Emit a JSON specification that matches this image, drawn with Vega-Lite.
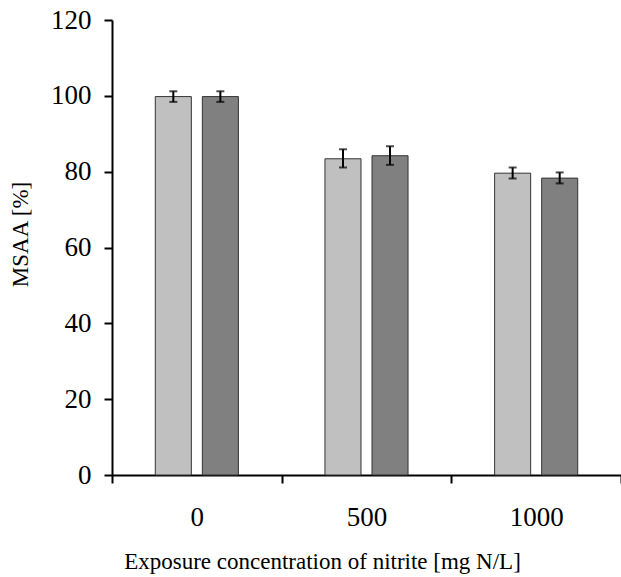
{
  "$schema": "https://vega.github.io/schema/vega-lite/v6.json",
  "autosize": {"type": "none"},
  "padding": {"left": 112, "top": 20, "right": 0, "bottom": 102},
  "width": 509,
  "height": 455,
  "background": "white",
  "config": {
    "view": {"stroke": null},
    "font": "Liberation Serif",
    "axis": {
      "labelFont": "Liberation Serif",
      "titleFont": "Liberation Serif",
      "labelColor": "black",
      "titleColor": "black",
      "titleFontWeight": "normal",
      "domainColor": "black",
      "tickColor": "black",
      "domainWidth": 2,
      "tickWidth": 2,
      "grid": false
    }
  },
  "data": {
    "values": [
      {"conc": "0", "series": "A", "mean": 99.8, "lo": 98.4, "hi": 101.2},
      {"conc": "0", "series": "B", "mean": 99.8, "lo": 98.4, "hi": 101.2},
      {"conc": "500", "series": "A", "mean": 83.4, "lo": 81.1, "hi": 85.9},
      {"conc": "500", "series": "B", "mean": 84.2, "lo": 81.8, "hi": 86.7},
      {"conc": "1000", "series": "A", "mean": 79.6, "lo": 78.2, "hi": 81.1},
      {"conc": "1000", "series": "B", "mean": 78.3, "lo": 76.9, "hi": 79.8}
    ]
  },
  "encoding": {
    "x": {
      "field": "conc",
      "type": "nominal",
      "sort": ["0", "500", "1000"],
      "scale": {"paddingInner": 0, "paddingOuter": 0},
      "axis": {
        "title": "Exposure concentration of nitrite [mg N/L]",
        "labelAngle": 0,
        "labelFontSize": 27,
        "titleFontSize": 23,
        "tickBand": "extent",
        "tickSize": 8,
        "labelPadding": 21,
        "titlePadding": 20,
        "titleX": 210
      }
    },
    "xOffset": {
      "field": "series",
      "type": "nominal",
      "scale": {"paddingInner": 0.234, "paddingOuter": 0.92}
    }
  },
  "layer": [
    {
      "mark": {"type": "bar", "stroke": "#333333", "strokeWidth": 1},
      "encoding": {
        "y": {
          "field": "mean",
          "type": "quantitative",
          "scale": {"domain": [0, 120]},
          "axis": {
            "title": "MSAA [%]",
            "values": [0, 20, 40, 60, 80, 100, 120],
            "labelFontSize": 27,
            "titleFontSize": 23,
            "tickSize": 8,
            "labelPadding": 13,
            "titlePadding": 18,
            "titleY": 214
          }
        },
        "color": {
          "field": "series",
          "type": "nominal",
          "scale": {"domain": ["A", "B"], "range": ["#c0c0c0", "#808080"]},
          "legend": null
        }
      }
    },
    {
      "mark": {"type": "rule", "color": "black", "strokeWidth": 2},
      "encoding": {
        "y": {"field": "lo", "type": "quantitative"},
        "y2": {"field": "hi"}
      }
    },
    {
      "mark": {"type": "tick", "color": "black", "thickness": 2, "size": 8},
      "encoding": {"y": {"field": "lo", "type": "quantitative"}}
    },
    {
      "mark": {"type": "tick", "color": "black", "thickness": 2, "size": 8},
      "encoding": {"y": {"field": "hi", "type": "quantitative"}}
    }
  ]
}
